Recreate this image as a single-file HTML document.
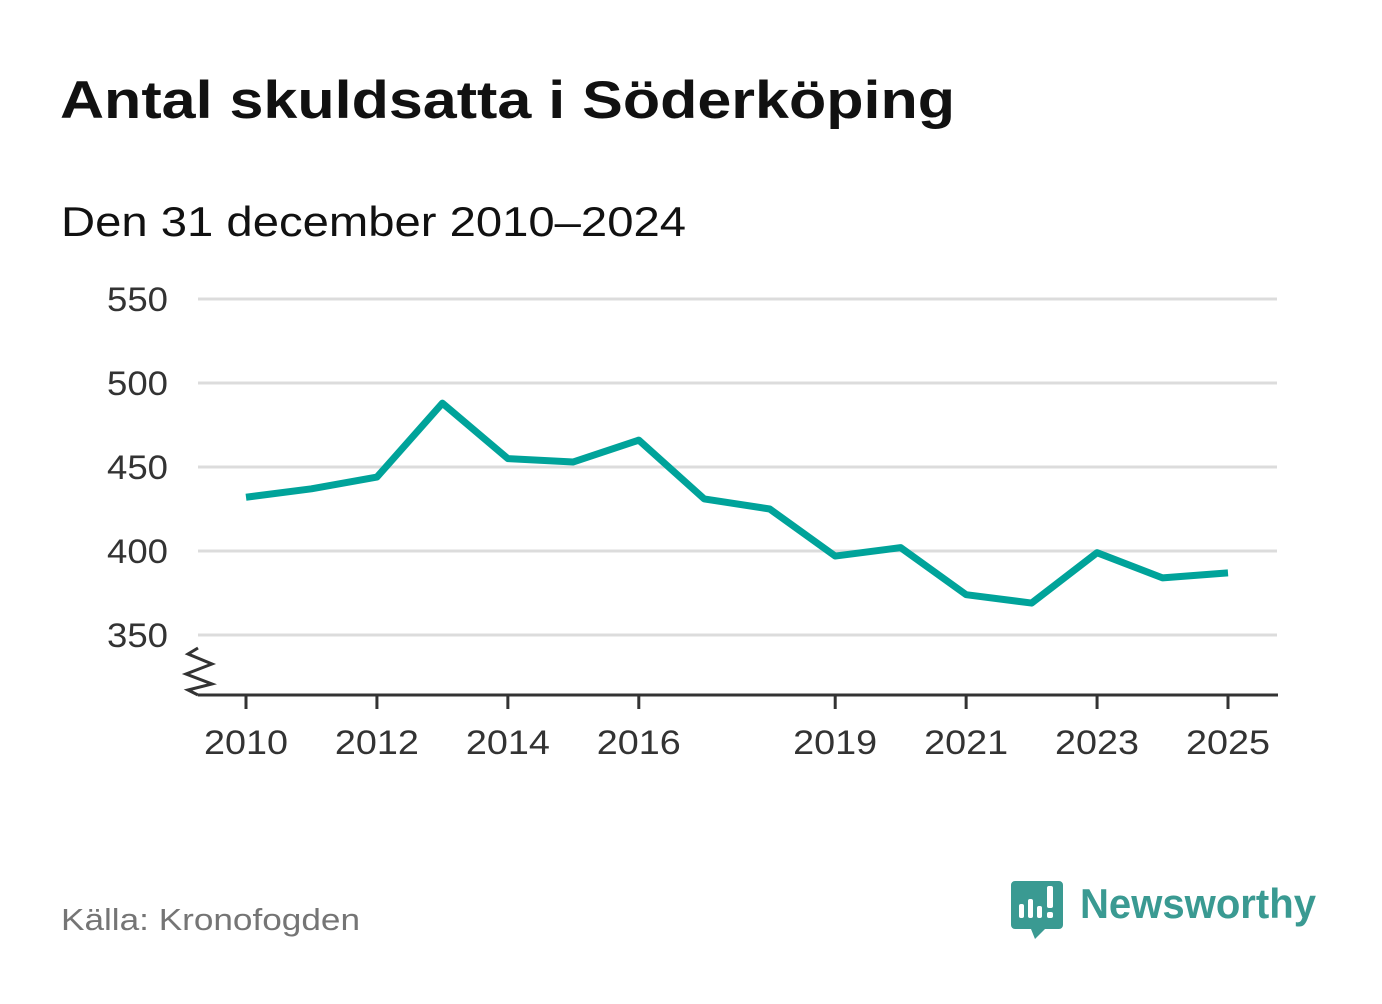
<!DOCTYPE html>
<html><head><meta charset="utf-8"><style>
body{margin:0;width:1382px;height:999px;background:#fff;overflow:hidden;font-family:"Liberation Sans",sans-serif}
</style></head><body>
<svg width="1382" height="999" xmlns="http://www.w3.org/2000/svg">
<text x="60" y="118" font-size="53" font-weight="bold" fill="#111" textLength="895" lengthAdjust="spacingAndGlyphs">Antal skuldsatta i Söderköping</text>
<text x="61" y="236" font-size="42" fill="#111" textLength="625" lengthAdjust="spacingAndGlyphs">Den 31 december 2010–2024</text>
<g id="grid"></g>
<g id="axis"></g>
<path id="line" fill="none" stroke="#00a39a" stroke-width="7" stroke-linejoin="round"/>
<text x="61" y="930" font-size="31" fill="#757575" textLength="299" lengthAdjust="spacingAndGlyphs">Källa: Kronofogden</text>
<g>
<path d="M1015 881h44a4 4 0 0 1 4 4v40a4 4 0 0 1-4 4h-14l-10 10l-4-10h-16a4 4 0 0 1-4-4v-40a4 4 0 0 1 4-4z" fill="#3a9a92"/>
<rect x="1019" y="904" width="5" height="14" rx="2" fill="#fff"/>
<rect x="1028" y="899" width="5" height="19" rx="2" fill="#fff"/>
<rect x="1037" y="906" width="5" height="12" rx="2" fill="#fff"/>
<rect x="1047" y="886" width="6" height="22" rx="2" fill="#fff"/>
<rect x="1047" y="912" width="6" height="6" rx="2" fill="#fff"/>
<text x="1080" y="918" font-size="42" fill="#3a9a92" font-weight="bold" textLength="236" lengthAdjust="spacingAndGlyphs">Newsworthy</text>
</g>
</svg>
<script>
const years=[2010,2011,2012,2013,2014,2015,2016,2017,2018,2019,2020,2021,2022,2023,2024,2025];
const values=[432,437,444,488,455,453,466,431,425,397,402,374,369,399,384,387];
const yTicks=[350,400,450,500,550];
const xTicks=[2010,2012,2014,2016,2019,2021,2023,2025];
const NS="http://www.w3.org/2000/svg";
const x=v=>246+(v-2010)*(1228-246)/15;
const y=v=>635-(v-350)*1.68;
const grid=document.getElementById('grid'),axis=document.getElementById('axis');
function mk(t,a,p){const e=document.createElementNS(NS,t);for(const k in a)e.setAttribute(k,a[k]);p.appendChild(e);return e;}
yTicks.forEach(v=>{
 const l=mk('line',{x1:198,x2:1277,y1:y(v),y2:y(v),stroke:'#dcdcdc','stroke-width':3},grid);
 
 
 const t=mk('text',{x:168,y:y(v)+12,'font-size':34,fill:'#333','text-anchor':'end',textLength:61,lengthAdjust:'spacingAndGlyphs'},grid);
 t.textContent=v;
 
 
});
const ax=mk('line',{x1:198,x2:1278,y1:695,y2:695,stroke:'#333','stroke-width':3},axis);


const zz=mk('path',{d:'M198 648L188 654L212 664L186 674L212 684L188 690L198 695',fill:'none',stroke:'#333','stroke-width':3},axis);


xTicks.forEach(v=>{
 const tk=mk('line',{x1:x(v),x2:x(v),y1:695,y2:709,stroke:'#333','stroke-width':3},axis);
 
 
 const t=mk('text',{x:x(v),y:754,'font-size':34,fill:'#333','text-anchor':'middle',textLength:84,lengthAdjust:'spacingAndGlyphs'},axis);
 t.textContent=v;
 
 
});
document.getElementById('line').setAttribute('d',values.map((v,i)=>(i?'L':'M')+x(years[i])+' '+y(v)).join(''));
</script>
</body></html>
